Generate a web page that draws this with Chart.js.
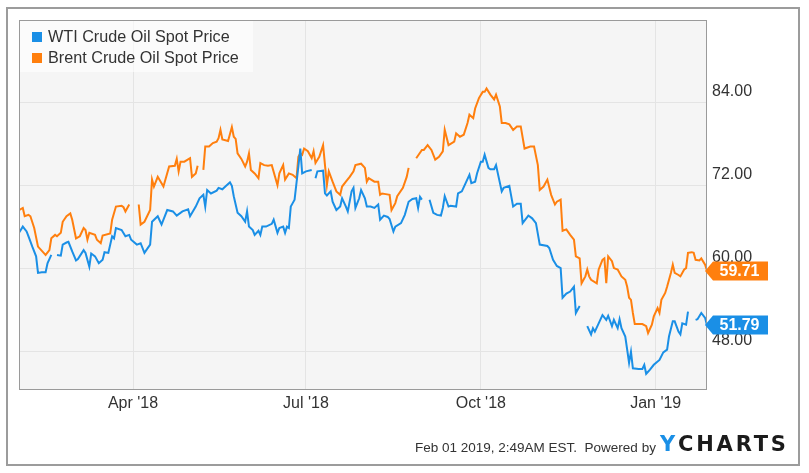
<!DOCTYPE html>
<html>
<head>
<meta charset="utf-8">
<script src="https://cdn.jsdelivr.net/npm/chart.js@4.4.0/dist/chart.umd.min.js"></script>
<style>
  body { margin: 0; background: #fff; font-family: Arial, "Liberation Sans", sans-serif; }
  #wrap { position: relative; width: 809px; height: 473px; }
  #frame { position: absolute; left: 6px; top: 7px; width: 790px; height: 455px; border: 2px solid #9c9c9c; }
  #chart { position: absolute; left: 0; top: 0; }
  #legend { position: absolute; left: 20px; top: 21px; width: 233px; height: 51px; background: rgba(255,255,255,0.6); z-index: 2; }
  .item { position: absolute; left: 12px; font-size: 16.2px; color: #333; white-space: nowrap; line-height: 18px; }
  .item span { display: inline-block; width: 10px; height: 10px; margin-right: 6px; vertical-align: 0px; }
  #footer { position: absolute; left: 415px; top: 440px; font-size: 13.5px; color: #333; white-space: nowrap; }
  #logo { position: absolute; left: 660px; top: 432px; font-size: 21px; font-weight: bold; letter-spacing: 2.8px; color: #1b1b1b; font-family: "DejaVu Sans", Arial, sans-serif; }
  #logo b { color: #1a8fe6; }
</style>
</head>
<body>
<div id="wrap">
  <div id="frame"></div>
  <canvas id="chart" width="809" height="473"></canvas>
  <div id="legend">
    <div class="item" style="top:6px"><span style="background:#1a8fe6"></span>WTI Crude Oil Spot Price</div>
    <div class="item" style="top:27px"><span style="background:#ff7f0e"></span>Brent Crude Oil Spot Price</div>
  </div>
  <div id="footer">Feb 01 2019, 2:49AM EST.&nbsp; Powered by</div>
  <div id="logo"><b>Y</b>CHARTS</div>
</div>
<script>
// values, nulls are the breaks in the lines
const wtiDates = ['2018-01-31','2018-02-02','2018-02-04','2018-02-05','2018-02-07','2018-02-09','2018-02-10','2018-02-12','2018-02-14','2018-02-15',
  '2018-02-17','2018-02-19','2018-02-20','2018-02-22','2018-02-23','2018-02-25','2018-02-26','2018-02-28','2018-03-02','2018-03-03',
  '2018-03-06','2018-03-07','2018-03-09','2018-03-10','2018-03-12','2018-03-14','2018-03-16','2018-03-17','2018-03-19','2018-03-21',
  '2018-03-22','2018-03-23','2018-03-26','2018-03-28','2018-03-30','2018-03-31','2018-04-03','2018-04-05','2018-04-07','2018-04-10',
  '2018-04-11','2018-04-14','2018-04-16','2018-04-19','2018-04-22','2018-04-24','2018-04-27','2018-04-30','2018-05-01','2018-05-04',
  '2018-05-06','2018-05-08','2018-05-09','2018-05-10','2018-05-12','2018-05-15','2018-05-16','2018-05-18','2018-05-20','2018-05-22',
  '2018-05-23','2018-05-24','2018-05-26','2018-05-28','2018-05-30','2018-05-31','2018-06-01','2018-06-03','2018-06-04','2018-06-06',
  '2018-06-07','2018-06-08','2018-06-10','2018-06-13','2018-06-14','2018-06-16','2018-06-17','2018-06-19','2018-06-20','2018-06-21',
  '2018-06-22','2018-06-23','2018-06-24','2018-06-25','2018-06-27','2018-06-28','2018-06-29','2018-07-01','2018-07-04','2018-07-05',
  '2018-07-06','2018-07-07','2018-07-10','2018-07-11','2018-07-12','2018-07-14','2018-07-15','2018-07-17','2018-07-19','2018-07-20',
  '2018-07-22','2018-07-23','2018-07-25','2018-07-26','2018-07-27','2018-07-29','2018-07-30','2018-08-01','2018-08-02','2018-08-04',
  '2018-08-06','2018-08-08','2018-08-09','2018-08-11','2018-08-13','2018-08-14','2018-08-16','2018-08-17','2018-08-20','2018-08-22',
  '2018-08-24','2018-08-26','2018-08-28','2018-08-29','2018-08-30','2018-08-31','2018-09-03','2018-09-04','2018-09-06','2018-09-08',
  '2018-09-10','2018-09-11','2018-09-12','2018-09-14','2018-09-15','2018-09-18','2018-09-19','2018-09-21','2018-09-23','2018-09-25',
  '2018-09-26','2018-09-28','2018-09-29','2018-10-01','2018-10-02','2018-10-03','2018-10-05','2018-10-06','2018-10-08','2018-10-09',
  '2018-10-12','2018-10-13','2018-10-16','2018-10-18','2018-10-20','2018-10-22','2018-10-23','2018-10-26','2018-10-28','2018-10-30',
  '2018-11-01','2018-11-05','2018-11-06','2018-11-08','2018-11-10','2018-11-12','2018-11-13','2018-11-15','2018-11-17','2018-11-19',
  '2018-11-20','2018-11-22','2018-11-24','2018-11-26','2018-11-28','2018-11-29','2018-11-30','2018-12-02','2018-12-04','2018-12-06',
  '2018-12-07','2018-12-09','2018-12-10','2018-12-12','2018-12-13','2018-12-14','2018-12-16','2018-12-18','2018-12-19','2018-12-20',
  '2018-12-23','2018-12-25','2018-12-26','2018-12-27','2018-12-29','2018-12-31','2019-01-03','2019-01-05','2019-01-07','2019-01-08',
  '2019-01-10','2019-01-11','2019-01-13','2019-01-14','2019-01-15','2019-01-17','2019-01-18','2019-01-20','2019-01-22','2019-01-23',
  '2019-01-25','2019-01-27','2019-01-28'];
const wtiValues = [65.2,66.1,65.4,64.7,63.2,61.8,59.4,59.5,59.5,60.8,
  62.0,null,62.0,61.9,63.5,63.8,63.9,62.5,61.2,61.4,
  62.7,62.3,60.3,62.2,61.8,60.8,61.3,62.4,62.3,64.7,
  64.4,65.9,65.6,64.7,64.9,64.2,63.5,63.7,62.3,63.5,
  66.8,67.6,66.4,68.5,68.3,67.7,68.3,68.6,67.6,69.0,
  70.2,70.7,69.0,71.4,70.9,71.3,71.7,71.5,72.0,72.5,
  72.0,70.5,68.1,67.6,66.8,68.3,66.1,65.6,64.9,65.5,
  64.9,66.1,66.1,66.5,67.1,65.2,65.9,66.1,65.2,66.1,
  65.9,69.0,69.5,70.0,74.8,77.4,73.8,74.1,74.3,null,
  73.1,74.1,74.2,70.9,70.6,71.2,69.7,68.5,69.0,70.2,
  69.0,68.3,71.2,71.7,68.8,70.2,71.4,70.2,69.0,69.0,
  68.8,69.3,67.1,67.7,67.5,67.2,65.4,66.1,66.6,67.8,
  69.7,70.1,70.2,68.8,70.4,70.0,null,70.0,68.1,67.8,
  67.7,68.8,70.5,69.0,69.1,69.0,70.9,71.2,72.4,73.6,
  72.4,72.6,73.8,75.5,75.5,76.5,74.6,74.4,74.4,75.0,
  71.2,71.7,72.0,69.0,69.4,69.4,66.6,67.7,67.3,66.6,
  63.5,63.3,63.0,61.3,60.4,60.1,55.8,56.4,56.7,57.4,
  53.6,54.6,null,51.7,50.5,51.4,50.9,52.1,53.3,52.6,
  53.2,51.7,52.6,51.4,52.7,51.4,50.2,46.4,48.0,45.6,
  45.5,45.5,46.1,44.8,45.4,46.1,46.8,47.9,48.3,50.2,
  52.4,52.4,50.9,50.5,52.1,51.9,53.8,null,52.6,52.7,
  53.6,52.9,51.79];

const brentDates = ['2018-01-31','2018-02-02','2018-02-03','2018-02-05','2018-02-06','2018-02-08','2018-02-10','2018-02-13','2018-02-14','2018-02-16',
  '2018-02-17','2018-02-19','2018-02-20','2018-02-22','2018-02-23','2018-02-25','2018-02-27','2018-02-28','2018-03-02','2018-03-04',
  '2018-03-06','2018-03-07','2018-03-08','2018-03-09','2018-03-12','2018-03-13','2018-03-15','2018-03-16','2018-03-20','2018-03-21',
  '2018-03-23','2018-03-26','2018-03-27','2018-03-28','2018-03-30','2018-04-02','2018-04-04','2018-04-05','2018-04-07','2018-04-10',
  '2018-04-11','2018-04-12','2018-04-14','2018-04-17','2018-04-20','2018-04-23','2018-04-24','2018-04-25','2018-04-26','2018-04-28',
  '2018-05-01','2018-05-02','2018-05-04','2018-05-05','2018-05-06','2018-05-08','2018-05-09','2018-05-11','2018-05-13','2018-05-15',
  '2018-05-16','2018-05-17','2018-05-18','2018-05-21','2018-05-23','2018-05-24','2018-05-25','2018-05-26','2018-05-28','2018-05-30',
  '2018-05-31','2018-06-01','2018-06-02','2018-06-04','2018-06-06','2018-06-07','2018-06-09','2018-06-11','2018-06-13','2018-06-16',
  '2018-06-17','2018-06-19','2018-06-20','2018-06-22','2018-06-24','2018-06-26','2018-06-27','2018-06-28','2018-06-29','2018-06-30',
  '2018-07-02','2018-07-04','2018-07-05','2018-07-06','2018-07-08','2018-07-10','2018-07-11','2018-07-12','2018-07-13','2018-07-15',
  '2018-07-17','2018-07-19','2018-07-20','2018-07-22','2018-07-24','2018-07-26','2018-07-27','2018-07-30','2018-08-01','2018-08-02',
  '2018-08-03','2018-08-06','2018-08-08','2018-08-09','2018-08-10','2018-08-12','2018-08-14','2018-08-15','2018-08-17','2018-08-18',
  '2018-08-21','2018-08-23','2018-08-24','2018-08-26','2018-08-28','2018-08-31','2018-09-01','2018-09-03','2018-09-05','2018-09-07',
  '2018-09-09','2018-09-11','2018-09-12','2018-09-14','2018-09-17','2018-09-18','2018-09-20','2018-09-22','2018-09-24','2018-09-25',
  '2018-09-27','2018-09-28','2018-09-30','2018-10-02','2018-10-03','2018-10-04','2018-10-06','2018-10-08','2018-10-09','2018-10-11',
  '2018-10-12','2018-10-14','2018-10-16','2018-10-18','2018-10-20','2018-10-22','2018-10-24','2018-10-27','2018-10-29','2018-10-31',
  '2018-11-01','2018-11-03','2018-11-05','2018-11-07','2018-11-09','2018-11-10','2018-11-12','2018-11-13','2018-11-15','2018-11-17',
  '2018-11-19','2018-11-20','2018-11-22','2018-11-23','2018-11-25','2018-11-26','2018-11-27','2018-11-28','2018-12-01','2018-12-02',
  '2018-12-04','2018-12-05','2018-12-06','2018-12-07','2018-12-09','2018-12-10','2018-12-12','2018-12-14','2018-12-16','2018-12-17',
  '2018-12-18','2018-12-19','2018-12-20','2018-12-21','2018-12-25','2018-12-27','2018-12-28','2018-12-30','2018-12-31','2019-01-02',
  '2019-01-03','2019-01-04','2019-01-06','2019-01-07','2019-01-09','2019-01-10','2019-01-11','2019-01-13','2019-01-14','2019-01-16',
  '2019-01-17','2019-01-18','2019-01-20','2019-01-21','2019-01-22','2019-01-24','2019-01-25','2019-01-27','2019-01-28'];
const brentValues = [68.5,68.8,67.6,67.8,67.6,65.9,63.2,62.3,62.0,62.7,
  64.4,64.9,64.7,65.2,66.8,67.6,68.0,67.1,64.4,64.7,
  65.9,65.6,64.2,65.2,64.9,64.2,63.7,64.8,65.1,67.1,
  69.0,69.1,68.9,68.3,69.3,null,69.3,66.4,66.8,68.5,
  72.9,71.9,73.3,71.9,74.8,74.9,75.9,74.1,75.5,75.5,
  76.0,73.3,73.8,74.9,null,74.3,77.7,77.7,78.2,78.4,
  78.9,80.1,78.7,78.5,80.5,79.1,78.8,76.7,75.9,74.8,
  75.5,76.7,74.3,73.8,73.1,75.3,75.0,74.9,75.0,72.1,
  73.8,75.0,72.9,73.8,73.6,73.1,76.2,76.7,76.5,77.4,
  77.0,76.0,77.0,75.3,76.2,77.9,75.0,72.1,74.1,72.6,
  71.2,70.7,71.9,72.6,73.3,74.1,75.0,75.2,74.6,72.6,
  73.1,72.6,72.6,70.7,70.9,70.8,70.7,68.5,69.5,70.5,
  71.7,73.3,74.6,null,76.0,77.2,77.2,77.9,77.2,75.8,
  76.2,77.0,80.1,77.9,78.4,79.6,79.1,79.4,81.1,82.3,
  81.8,83.2,84.7,85.6,85.6,86.1,85.2,84.5,85.2,83.5,
  81.1,81.1,80.9,80.1,80.6,80.6,77.4,77.7,77.7,75.0,
  71.4,71.9,72.9,70.7,69.3,69.7,70.0,65.5,65.7,64.9,
  64.2,61.8,61.5,57.9,58.9,59.9,58.9,58.4,57.9,59.9,
  61.3,61.5,57.9,61.8,61.1,60.1,59.9,58.9,58.4,57.4,
  55.8,55.5,53.6,52.0,52.0,51.7,50.7,51.9,53.1,54.3,
  53.6,55.5,56.5,57.4,59.4,60.6,59.4,59.1,58.9,59.9,
  60.1,62.3,62.4,62.3,61.3,61.2,61.5,60.6,59.71];

const tickDates = ['2018-04-01','2018-07-01','2018-10-01','2019-01-01'];
const tickLabels = ["Apr '18", "Jul '18", "Oct '18", "Jan '19"];
const yTicks = [48, 60, 72, 84];

const blue = '#1a8fe6';
const orange = '#ff7f0e';
const fontFamily = 'Arial, "Liberation Sans", sans-serif';

function dayNum(s) {
  const p = s.split('-').map(Number);
  return Date.UTC(p[0], p[1] - 1, p[2]) / 864e5;
}
const tickDays = tickDates.map(dayNum);

function toPoints(dates, values) {
  return dates.map((d, i) => ({ x: dayNum(d), y: values[i] }));
}

// grey plot background and frame
const plotBox = {
  id: 'plotBox',
  beforeDraw(chart) {
    const a = chart.chartArea, ctx = chart.ctx;
    ctx.save();
    ctx.fillStyle = '#f5f5f5';
    ctx.fillRect(a.left, a.top, a.right - a.left, a.bottom - a.top);
    ctx.restore();
  },
  afterDatasetsDraw(chart) {
    const a = chart.chartArea, ctx = chart.ctx;
    ctx.save();
    ctx.strokeStyle = '#9a9a9a';
    ctx.lineWidth = 1;
    ctx.strokeRect(a.left + 0.5, a.top + 0.5, a.right - a.left - 1, a.bottom - a.top);
    ctx.restore();
  }
};

// last value tags on the right axis
const endTags = {
  id: 'endTags',
  afterDraw(chart) {
    const ctx = chart.ctx, yScale = chart.scales.y, a = chart.chartArea;
    chart.data.datasets.forEach(ds => {
      const last = ds.data[ds.data.length - 1].y;
      const y = Math.round(yScale.getPixelForValue(last));
      const x0 = a.right - 2, x1 = x0 + 8, x2 = x1 + 55, h = 9.5;
      ctx.save();
      ctx.fillStyle = ds.borderColor;
      ctx.beginPath();
      ctx.moveTo(x0, y);
      ctx.lineTo(x1, y - h);
      ctx.lineTo(x2, y - h);
      ctx.lineTo(x2, y + h);
      ctx.lineTo(x1, y + h);
      ctx.closePath();
      ctx.fill();
      ctx.fillStyle = '#fff';
      ctx.font = 'bold 16px ' + fontFamily;
      ctx.textAlign = 'center';
      ctx.textBaseline = 'middle';
      ctx.fillText(last.toFixed(2), (x1 + x2) / 2 - 1, y + 1);
      ctx.restore();
    });
  }
};

new Chart(document.getElementById('chart'), {
  type: 'line',
  data: {
    datasets: [
      { label: 'WTI Crude Oil Spot Price', data: toPoints(wtiDates, wtiValues), borderColor: blue, backgroundColor: blue },
      { label: 'Brent Crude Oil Spot Price', data: toPoints(brentDates, brentValues), borderColor: orange, backgroundColor: orange }
    ]
  },
  options: {
    responsive: false,
    animation: false,
    spanGaps: false,
    elements: {
      line: { borderWidth: 2, tension: 0 },
      point: { radius: 0 }
    },
    layout: { padding: { left: 19, top: 20, right: 0, bottom: 0 } },
    plugins: {
      legend: { display: false },
      tooltip: { enabled: false }
    },
    scales: {
      x: {
        type: 'linear',
        min: dayNum(wtiDates[0]),
        max: dayNum(wtiDates[wtiDates.length - 1]),
        afterBuildTicks: s => { s.ticks = tickDays.map(v => ({ value: v })); },
        afterFit: s => { s.height = 84; },
        grid: { color: '#e4e4e4', drawTicks: false },
        border: { display: false },
        ticks: {
          padding: 5,
          maxRotation: 0,
          color: '#333',
          font: { size: 16, family: fontFamily },
          callback: v => tickLabels[tickDays.indexOf(v)]
        }
      },
      y: {
        position: 'right',
        min: 42.6,
        max: 96,
        afterBuildTicks: s => { s.ticks = yTicks.map(v => ({ value: v })); },
        afterFit: s => { s.width = 102; },
        grid: { color: '#e4e4e4', drawTicks: false },
        border: { display: false },
        ticks: {
          padding: 5,
          labelOffset: -11,
          color: '#333',
          font: { size: 16, family: fontFamily },
          callback: v => v.toFixed(2)
        }
      }
    }
  },
  plugins: [plotBox, endTags]
});
</script>
</body>
</html>
